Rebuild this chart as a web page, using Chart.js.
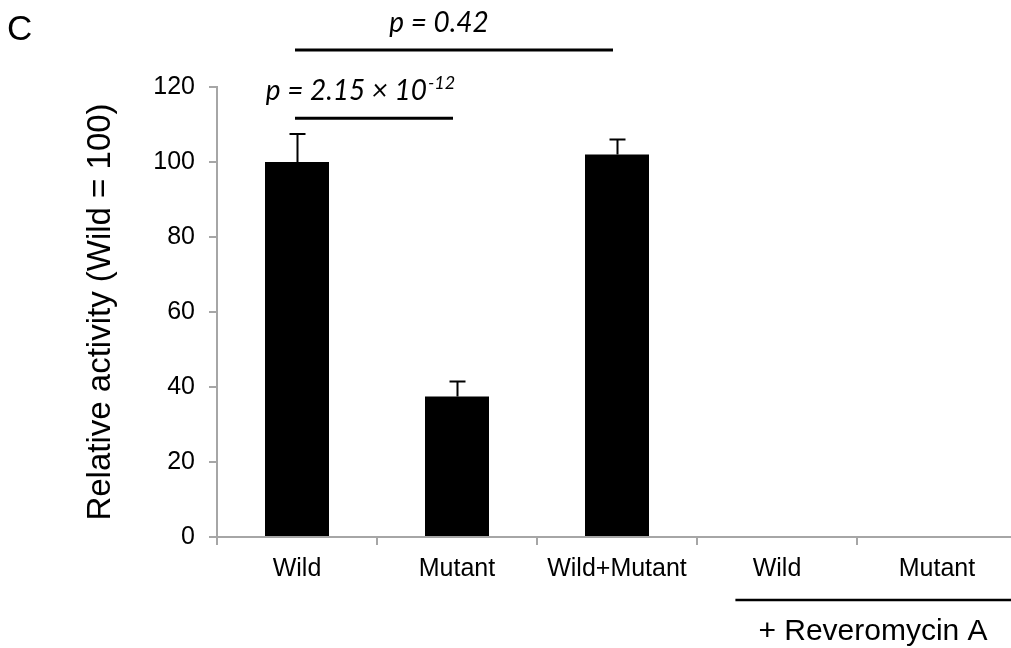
<!DOCTYPE html>
<html>
<head>
<meta charset="utf-8">
<script src="https://cdn.jsdelivr.net/npm/chart.js@4.4.1/dist/chart.umd.min.js"></script>
<style>
  html, body { margin: 0; padding: 0; background: #fff; overflow: hidden; }
  #chart { display: block; }
</style>
</head>
<body>
<canvas id="chart" width="1017" height="648"></canvas>
<script>
// values
const categories = ['Wild', 'Mutant', 'Wild+Mutant', 'Wild', 'Mutant'];
const activity = [100, 37.5, 102, 0, 0];
const errorTop = [107.5, 41.5, 106, null, null];

// significance brackets: category pair, height on the y scale, text
const pFrom = [0, 0];
const pTo = [1, 2];
const pLevel = [111.7, 129.9];
const pText = ['p = 2.15 × 10', 'p = 0.42'];
const pExp = ['-12', ''];

const groupLabel = '+ Reveromycin A';
const groupFrom = 3;
const groupTo = 4;

const axisGray = '#a6a6a6';
const sans = "'Liberation Sans', Arial, sans-serif";
const ital = "Lato, 'Open Sans', sans-serif";

const extras = {
    id: 'extras',
    afterDatasetsDraw(chart) {
        const ctx = chart.ctx;
        const x = chart.scales.x;
        const y = chart.scales.y;
        const meta = chart.getDatasetMeta(0);

        ctx.save();
        // error bars (upper only)
        ctx.strokeStyle = '#000';
        ctx.lineWidth = 2;
        errorTop.forEach((v, i) => {
            if (v == null) return;
            const cx = Math.round(meta.data[i].x) + 0.5;
            const y0 = y.getPixelForValue(activity[i]);
            const y1 = y.getPixelForValue(v);
            ctx.beginPath();
            ctx.moveTo(cx, y0);
            ctx.lineTo(cx, y1);
            ctx.moveTo(cx - 8, y1);
            ctx.lineTo(cx + 8, y1);
            ctx.stroke();
        });

        // p-value brackets
        ctx.lineWidth = 3;
        pLevel.forEach((lv, i) => {
            const x0 = x.getPixelForValue(pFrom[i]) - 2;
            const x1 = x.getPixelForValue(pTo[i]) - 4;
            const ly = y.getPixelForValue(lv);
            ctx.beginPath();
            ctx.moveTo(x0, ly);
            ctx.lineTo(x1, ly);
            ctx.stroke();

            ctx.fillStyle = '#000';
            ctx.textBaseline = 'alphabetic';
            ctx.font = 'italic 28px ' + ital;
            const mainW = ctx.measureText(pText[i]).width;
            ctx.font = 'italic 18px ' + ital;
            const expW = pExp[i] ? ctx.measureText(pExp[i]).width : 0;
            const total = mainW + expW;
            const cx = (x0 + x1) / 2 - (pExp[i] ? 14 : 15);
            const left = cx - total / 2;
            const base = ly - 18;
            ctx.textAlign = 'left';
            ctx.font = 'italic 28px ' + ital;
            ctx.fillText(pText[i], left, base);
            if (pExp[i]) {
                ctx.font = 'italic 18px ' + ital;
                ctx.fillText(pExp[i], left + mainW + 1, base - 11);
            }
        });

        // treatment group line and label under the axis
        const step = x.getPixelForValue(1) - x.getPixelForValue(0);
        const gx0 = x.getPixelForValue(groupFrom) - 0.26 * step;
        const gx1 = x.getPixelForValue(groupTo) + 0.5 * step;
        const gy = y.bottom + 63;
        ctx.lineWidth = 2.5;
        ctx.beginPath();
        ctx.moveTo(gx0, gy);
        ctx.lineTo(gx1, gy);
        ctx.stroke();
        ctx.font = '30px ' + sans;
        ctx.textAlign = 'center';
        ctx.fillText(groupLabel, 873, gy + 40);

        // panel letter
        ctx.textAlign = 'left';
        ctx.font = '35px ' + sans;
        ctx.fillText('C', 7, 40);
        ctx.restore();
    }
};

new Chart(document.getElementById('chart'), {
    type: 'bar',
    data: {
        labels: categories,
        datasets: [{
            label: 'Relative activity',
            data: activity,
            backgroundColor: '#000',
            borderWidth: 0,
            categoryPercentage: 1,
            barPercentage: 0.4
        }]
    },
    options: {
        responsive: false,
        animation: false,
        devicePixelRatio: 1,
        layout: { padding: { left: 0, top: 87, right: 0, bottom: 0 } },
        plugins: {
            legend: { display: false },
            tooltip: { enabled: false }
        },
        scales: {
            x: {
                offset: true,
                grid: {
                    offset: true,
                    drawOnChartArea: false,
                    color: axisGray,
                    tickLength: 8,
                    lineWidth: 2
                },
                border: { color: axisGray, width: 2 },
                ticks: {
                    color: '#000',
                    font: { family: sans, size: 25 },
                    padding: 9,
                    maxRotation: 0
                },
                afterFit(s) { s.height = 111; }
            },
            y: {
                min: 0,
                max: 120,
                grid: {
                    drawOnChartArea: false,
                    color: axisGray,
                    tickLength: 8,
                    lineWidth: 2
                },
                border: { color: axisGray, width: 2 },
                ticks: {
                    stepSize: 20,
                    color: '#000',
                    font: { family: sans, size: 25 },
                    padding: 14
                },
                title: {
                    display: true,
                    text: 'Relative activity (Wild = 100)',
                    color: '#000',
                    font: { family: sans, size: 33 },
                    padding: { top: 81, bottom: 0 }
                },
                afterFit(s) { s.width = 217; }
            }
        }
    },
    plugins: [extras]
});
</script>
</body>
</html>
